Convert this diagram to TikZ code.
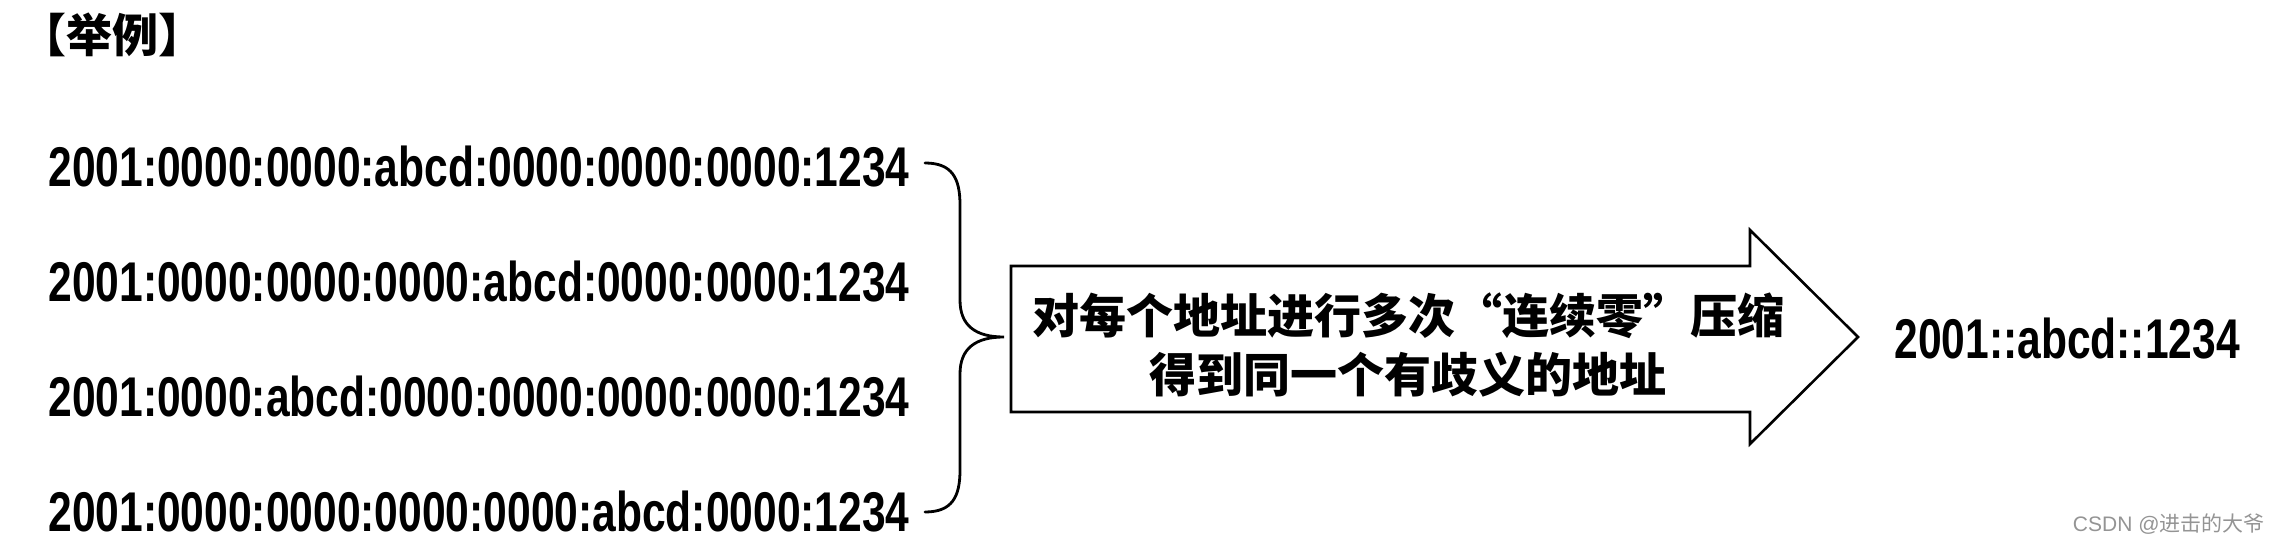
\documentclass[tikz,border=0pt]{standalone}
\usepackage{fontspec}
\setmainfont{Liberation Sans}
\newfontfamily\addrfont[FakeStretch=0.76]{Liberation Sans}
\newfontfamily\cjk{Noto Sans CJK SC}
\usetikzlibrary{positioning}

\begin{document}
\begin{tikzpicture}[
    x=0.5pt, y=-0.5pt,
    addr/.style={font=\addrfont\bfseries\fontsize{28}{30}\selectfont,
      inner sep=0pt, minimum height=57pt},
    title/.style={font=\cjk\bfseries\fontsize{23}{26}\selectfont, inner sep=0pt},
    note/.style={font=\cjk\bfseries\fontsize{23.5}{29.5}\selectfont,
      align=center, inner sep=0pt},
    wmark/.style={font=\fontsize{10.5}{12}\selectfont, text=black!42, inner sep=0pt},
    brace/.style={line width=1.4pt, line cap=round},
    bigarrow/.style={line width=1.3pt, line join=miter, fill=white}
  ]
    \useasboundingbox (0,0) rectangle (2281,545);

    \node[title] (head) at (112,35) {【举例】};

    \node[addr, anchor=west] (a1) at (48,167) {2001:0000:0000:abcd:0000:0000:0000:1234};
    \node[addr, below=0pt of a1] (a2) {2001:0000:0000:0000:abcd:0000:0000:1234};
    \node[addr, below=0pt of a2] (a3) {2001:0000:abcd:0000:0000:0000:0000:1234};
    \node[addr, below=0pt of a3] (a4) {2001:0000:0000:0000:0000:abcd:0000:1234};

    % curly brace grouping the four forms
    \coordinate (btop) at (925,163);
    \coordinate (btip) at (1004,337);
    \coordinate (bbot) at (925,512);
    \draw[brace] (btop) .. controls (952,163) and (960,178) .. (960,205)
      -- (960,300) .. controls (960,326) and (976,337) .. (btip)
      .. controls (976,337) and (960,348) .. (960,374)
      -- (960,470) .. controls (960,497) and (952,512) .. (bbot);

    % block arrow
    \draw[bigarrow] (1011,266) -- (1750,266) -- (1750,230) -- (1858,337)
      -- (1750,444) -- (1750,412) -- (1011,412) -- cycle;
    \node[note] (msg) at (1408,345) {对每个地址进行多次“连续零”压缩\\得到同一个有歧义的地址};

    \node[addr, anchor=west] (short) at (1894,339) {2001::abcd::1234};

    \node[wmark, anchor=east] (csdn) at (2265,524) {CSDN @{\cjk 进击的大爷}};
  \end{tikzpicture}
\end{document}
